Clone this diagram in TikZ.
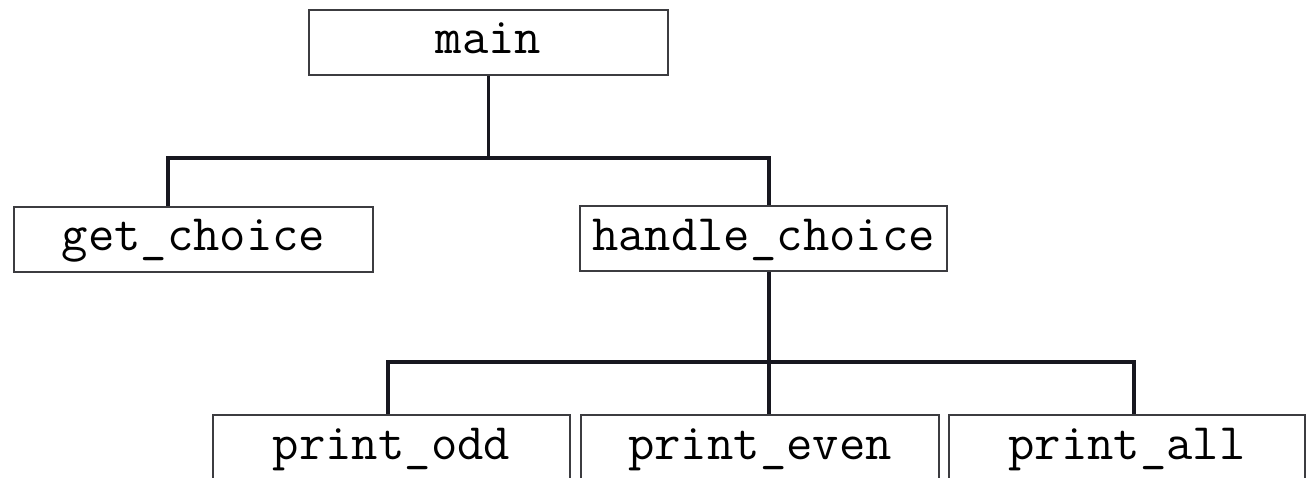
\documentclass[tikz,border=0pt]{standalone}
\usepackage{fontspec}
\definecolor{boxline}{HTML}{3C3C40}
\definecolor{wire}{HTML}{17171F}
\tikzset{
  fnbox/.style={draw=boxline, line width=2pt, fill=white, rectangle,
    inner sep=0pt, text height=44pt, text depth=21pt,
    font=\ttfamily\fontsize{51.2}{56}\selectfont},
  wireline/.style={draw=wire, line width=3.6pt}
}
\begin{document}
\begin{tikzpicture}[x=1pt, y=-1pt]
  \useasboundingbox (0,0) rectangle (1306,478);

  % call tree boxes
  \node[fnbox, minimum width=359pt] (main) at (488.5,42.5) {main};
  \node[fnbox, minimum width=359pt] (gc)   at (193.5,239.5) {get\_choice};
  \node[fnbox, minimum width=367pt] (hc)   at (763.5,239) {handle\_choice};
  \node[fnbox, minimum width=357pt] (podd) at (391.5,447.5) {print\_odd};
  \node[fnbox, minimum width=358pt] (peven) at (760,447.5) {print\_even};
  \node[fnbox, minimum width=356pt] (pall) at (1127,447.5) {print\_all};

  % junction points on the two buses
  \coordinate (bus1) at (488.5,158);
  \coordinate (d1gc) at (168,158);
  \coordinate (d1hc) at (769,158);
  \coordinate (bus2) at (769,362);
  \coordinate (d2odd) at (388,362);
  \coordinate (d2all) at (1134,362);

  % main -> get_choice, handle_choice
  \draw[wireline] (main.south) -- (bus1);
  \draw[wireline] (d1gc |- gc.north) -- (d1gc) -- (d1hc) -- (d1hc |- hc.north);

  % handle_choice -> print_odd, print_even, print_all
  \draw[wireline] (bus2 |- hc.south) -- (bus2 |- peven.north);
  \draw[wireline] (d2odd |- podd.north) -- (d2odd) -- (d2all) -- (d2all |- pall.north);
\end{tikzpicture}
\end{document}
